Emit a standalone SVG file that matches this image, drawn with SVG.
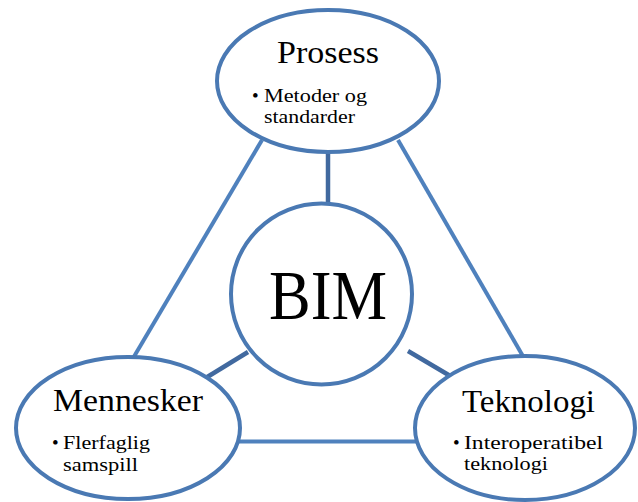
<svg xmlns="http://www.w3.org/2000/svg" width="638" height="502" viewBox="0 0 638 502">
  <style>
    .edge { stroke: #4f81bd; stroke-width: 4; fill: none; }
    .spoke { stroke: #41699f; stroke-width: 4.5; fill: none; }
    .shape { fill: #ffffff; stroke: #4a79b3; stroke-width: 4; }
    .title { font-family: "Liberation Serif", "Times New Roman", serif; font-size: 31px; fill: #000; }
    .item { font-family: "Liberation Serif", "Times New Roman", serif; font-size: 19px; fill: #000; }
    .hub { font-family: "Liberation Serif", "Times New Roman", serif; font-size: 69px; fill: #000; }
  </style>
  <rect width="638" height="502" fill="#ffffff"/>

  <!-- connectors -->
  <g id="connectors">
    <line class="edge" x1="262" y1="140" x2="132" y2="360"/>
    <line class="edge" x1="398" y1="140" x2="524" y2="358"/>
    <line class="edge" x1="236" y1="441.5" x2="419" y2="441.5"/>
    <line class="spoke" x1="328" y1="150" x2="328" y2="205"/>
    <line class="spoke" x1="248" y1="352" x2="204" y2="379"/>
    <line class="spoke" x1="408" y1="351" x2="452" y2="377"/>
  </g>

  <!-- top node -->
  <g id="node-prosess">
    <ellipse class="shape" cx="328" cy="81" rx="111" ry="71"/>
    <text class="title" x="277" y="63" textLength="102" lengthAdjust="spacingAndGlyphs">Prosess</text>
    <text class="item" x="252" y="101.5">•</text>
    <text class="item" x="264" y="101.5" textLength="103" lengthAdjust="spacingAndGlyphs">Metoder og</text>
    <text class="item" x="264" y="123" textLength="91" lengthAdjust="spacingAndGlyphs">standarder</text>
  </g>

  <!-- centre node -->
  <g id="node-bim">
    <circle class="shape" cx="321.5" cy="294" r="90.5"/>
    <text class="hub" x="269" y="319" textLength="118" lengthAdjust="spacingAndGlyphs">BIM</text>
  </g>

  <!-- lower left node -->
  <g id="node-mennesker">
    <ellipse class="shape" cx="128" cy="428" rx="112" ry="71"/>
    <text class="title" x="53" y="411" textLength="150" lengthAdjust="spacingAndGlyphs">Mennesker</text>
    <text class="item" x="52" y="449">•</text>
    <text class="item" x="63" y="449" textLength="87" lengthAdjust="spacingAndGlyphs">Flerfaglig</text>
    <text class="item" x="63" y="470.5" textLength="75" lengthAdjust="spacingAndGlyphs">samspill</text>
  </g>

  <!-- lower right node -->
  <g id="node-teknologi">
    <ellipse class="shape" cx="525" cy="428" rx="110" ry="72"/>
    <text class="title" x="462" y="411.5" textLength="133" lengthAdjust="spacingAndGlyphs">Teknologi</text>
    <text class="item" x="453" y="449">•</text>
    <text class="item" x="464" y="449" textLength="139" lengthAdjust="spacingAndGlyphs">Interoperatibel</text>
    <text class="item" x="464" y="470" textLength="84" lengthAdjust="spacingAndGlyphs">teknologi</text>
  </g>
</svg>
